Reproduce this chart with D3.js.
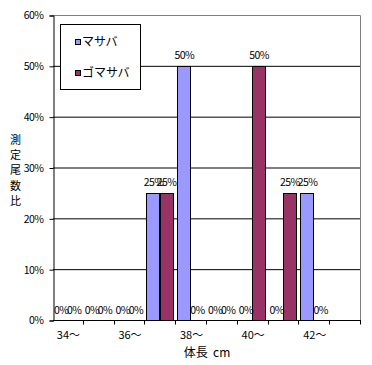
<!DOCTYPE html>
<html>
<head>
<meta charset="utf-8">
<script src="https://cdn.jsdelivr.net/npm/d3@7"></script>
<style>
  body { margin: 0; background: #fff; }
  svg { display: block; }
  text { font-family: "Noto Sans CJK JP", "DejaVu Sans", sans-serif; }
</style>
</head>
<body>
<div id="chart"></div>
<script>
const categories = ["34～", "35～", "36～", "37～", "38～", "39～", "40～", "41～", "42～", "43～"];
const tickLabels = ["34～", "", "36～", "", "38～", "", "40～", "", "42～", ""];
const masaba = [0, 0, 0, 25, 50, 0, 0, 0, 25, null];
const gomasaba = [0, 0, 0, 25, 0, 0, 50, 25, 0, null];
const seriesNames = ["マサバ", "ゴマサバ"];
const yTicks = [0, 10, 20, 30, 40, 50, 60];

const W = 372, H = 365;
const plot = {left: 53, right: 361, top: 15.5, bottom: 320.5};
const colors = ["#9999FF", "#993366"];

const svg = d3.select("#chart").append("svg")
    .attr("width", W)
    .attr("height", H);

const x = d3.scaleBand()
    .domain(categories)
    .range([plot.left, plot.right]);
const x1 = d3.scaleBand()
    .domain(seriesNames)
    .range([1, x.bandwidth() - 3.5]);
const y = d3.scaleLinear()
    .domain([0, 60])
    .range([plot.bottom, plot.top]);

// gridlines
svg.append("g")
    .selectAll("line")
    .data(yTicks.filter(d => d > 0 && d < 60))
    .join("line")
    .attr("x1", plot.left).attr("x2", plot.right)
    .attr("y1", d => y(d)).attr("y2", d => y(d))
    .attr("stroke", "#000");

// top + right border (gray)
svg.append("path")
    .attr("d", `M${plot.left},${y(60)}H${plot.right - 0.5}V${plot.bottom}`)
    .attr("fill", "none")
    .attr("stroke", "#808080");

// bars
const rows = categories.map((c, i) => ({cat: c, vals: [masaba[i], gomasaba[i]]}));
const barData = [];
rows.forEach(r => r.vals.forEach((v, j) => {
    if (v !== null) barData.push({cat: r.cat, s: seriesNames[j], j: j, v: v});
}));

svg.append("g")
    .selectAll("rect")
    .data(barData.filter(d => d.v > 0))
    .join("rect")
    .attr("x", d => Math.round(x(d.cat) + x1(d.s)) + 0.5)
    .attr("width", Math.round(x1.bandwidth()))
    .attr("y", d => Math.round(y(d.v)) + 0.5)
    .attr("height", d => y(0) - Math.round(y(d.v)) - 0.5)
    .attr("fill", d => colors[d.j])
    .attr("stroke", "#000");

// value labels
svg.append("g")
    .selectAll("text")
    .data(barData)
    .join("text")
    .attr("x", d => x(d.cat) + x1(d.s) + x1.bandwidth() / 2 + 0.5)
    .attr("y", d => y(d.v) - 7)
    .attr("text-anchor", "middle")
    .attr("font-size", "10.5px")
    .attr("letter-spacing", "-0.6px")
    .text(d => d.v + "%");

// y axis
const yAxis = svg.append("g")
    .attr("transform", `translate(${plot.left + 0.5},0)`)
    .call(d3.axisLeft(y).tickValues(yTicks).tickSize(4).tickPadding(6)
        .tickFormat(d => d + "%"));
yAxis.select(".domain").attr("stroke", "#000");
yAxis.selectAll("text")
    .attr("font-size", "10.5px")
    .attr("letter-spacing", "-0.5px")
    .attr("fill", "#000");

// x axis line + boundary ticks
svg.append("line")
    .attr("x1", plot.left).attr("x2", plot.right)
    .attr("y1", plot.bottom).attr("y2", plot.bottom)
    .attr("stroke", "#000");
const bounds = categories.map(c => x(c)).concat([plot.right]);
svg.append("g")
    .selectAll("line")
    .data(bounds.slice(1))
    .join("line")
    .attr("x1", d => Math.round(d) - 0.5).attr("x2", d => Math.round(d) - 0.5)
    .attr("y1", plot.bottom).attr("y2", plot.bottom + 4)
    .attr("stroke", "#000");

const xAxis = svg.append("g")
    .attr("transform", `translate(0,${plot.bottom})`)
    .call(d3.axisBottom(x).tickSize(0).tickPadding(11)
        .tickFormat((d, i) => tickLabels[i]));
xAxis.select(".domain").remove();
xAxis.selectAll("text")
    .attr("font-size", "11px")
    .attr("fill", "#000");

// axis titles
svg.append("text")
    .attr("x", 207)
    .attr("y", 357)
    .attr("text-anchor", "middle")
    .attr("font-size", "12px")
    .attr("xml:space", "preserve")
    .text("体長  cm");

const yTitle = "測定尾数比".split("");
svg.append("g")
    .selectAll("text")
    .data(yTitle)
    .join("text")
    .attr("x", 15.5)
    .attr("y", (d, i) => 140 + i * 15.3)
    .attr("dy", "0.35em")
    .attr("text-anchor", "middle")
    .attr("font-size", "11px")
    .text(d => d);

// legend
const legend = svg.append("g");
legend.append("rect")
    .attr("x", 60.5).attr("y", 24.5)
    .attr("width", 80).attr("height", 65)
    .attr("fill", "#fff")
    .attr("stroke", "#000");
const items = legend.selectAll("g.item")
    .data(seriesNames)
    .join("g")
    .attr("class", "item")
    .attr("transform", (d, i) => `translate(75,${i === 0 ? 39 : 70})`);
items.append("rect")
    .attr("x", 0.5).attr("y", 0.5)
    .attr("width", 5).attr("height", 5)
    .attr("fill", (d, i) => colors[i])
    .attr("stroke", "#000");
items.append("text")
    .attr("x", 7)
    .attr("y", 3)
    .attr("dy", "0.35em")
    .attr("font-size", "12px")
    .text(d => d);
</script>
</body>
</html>
